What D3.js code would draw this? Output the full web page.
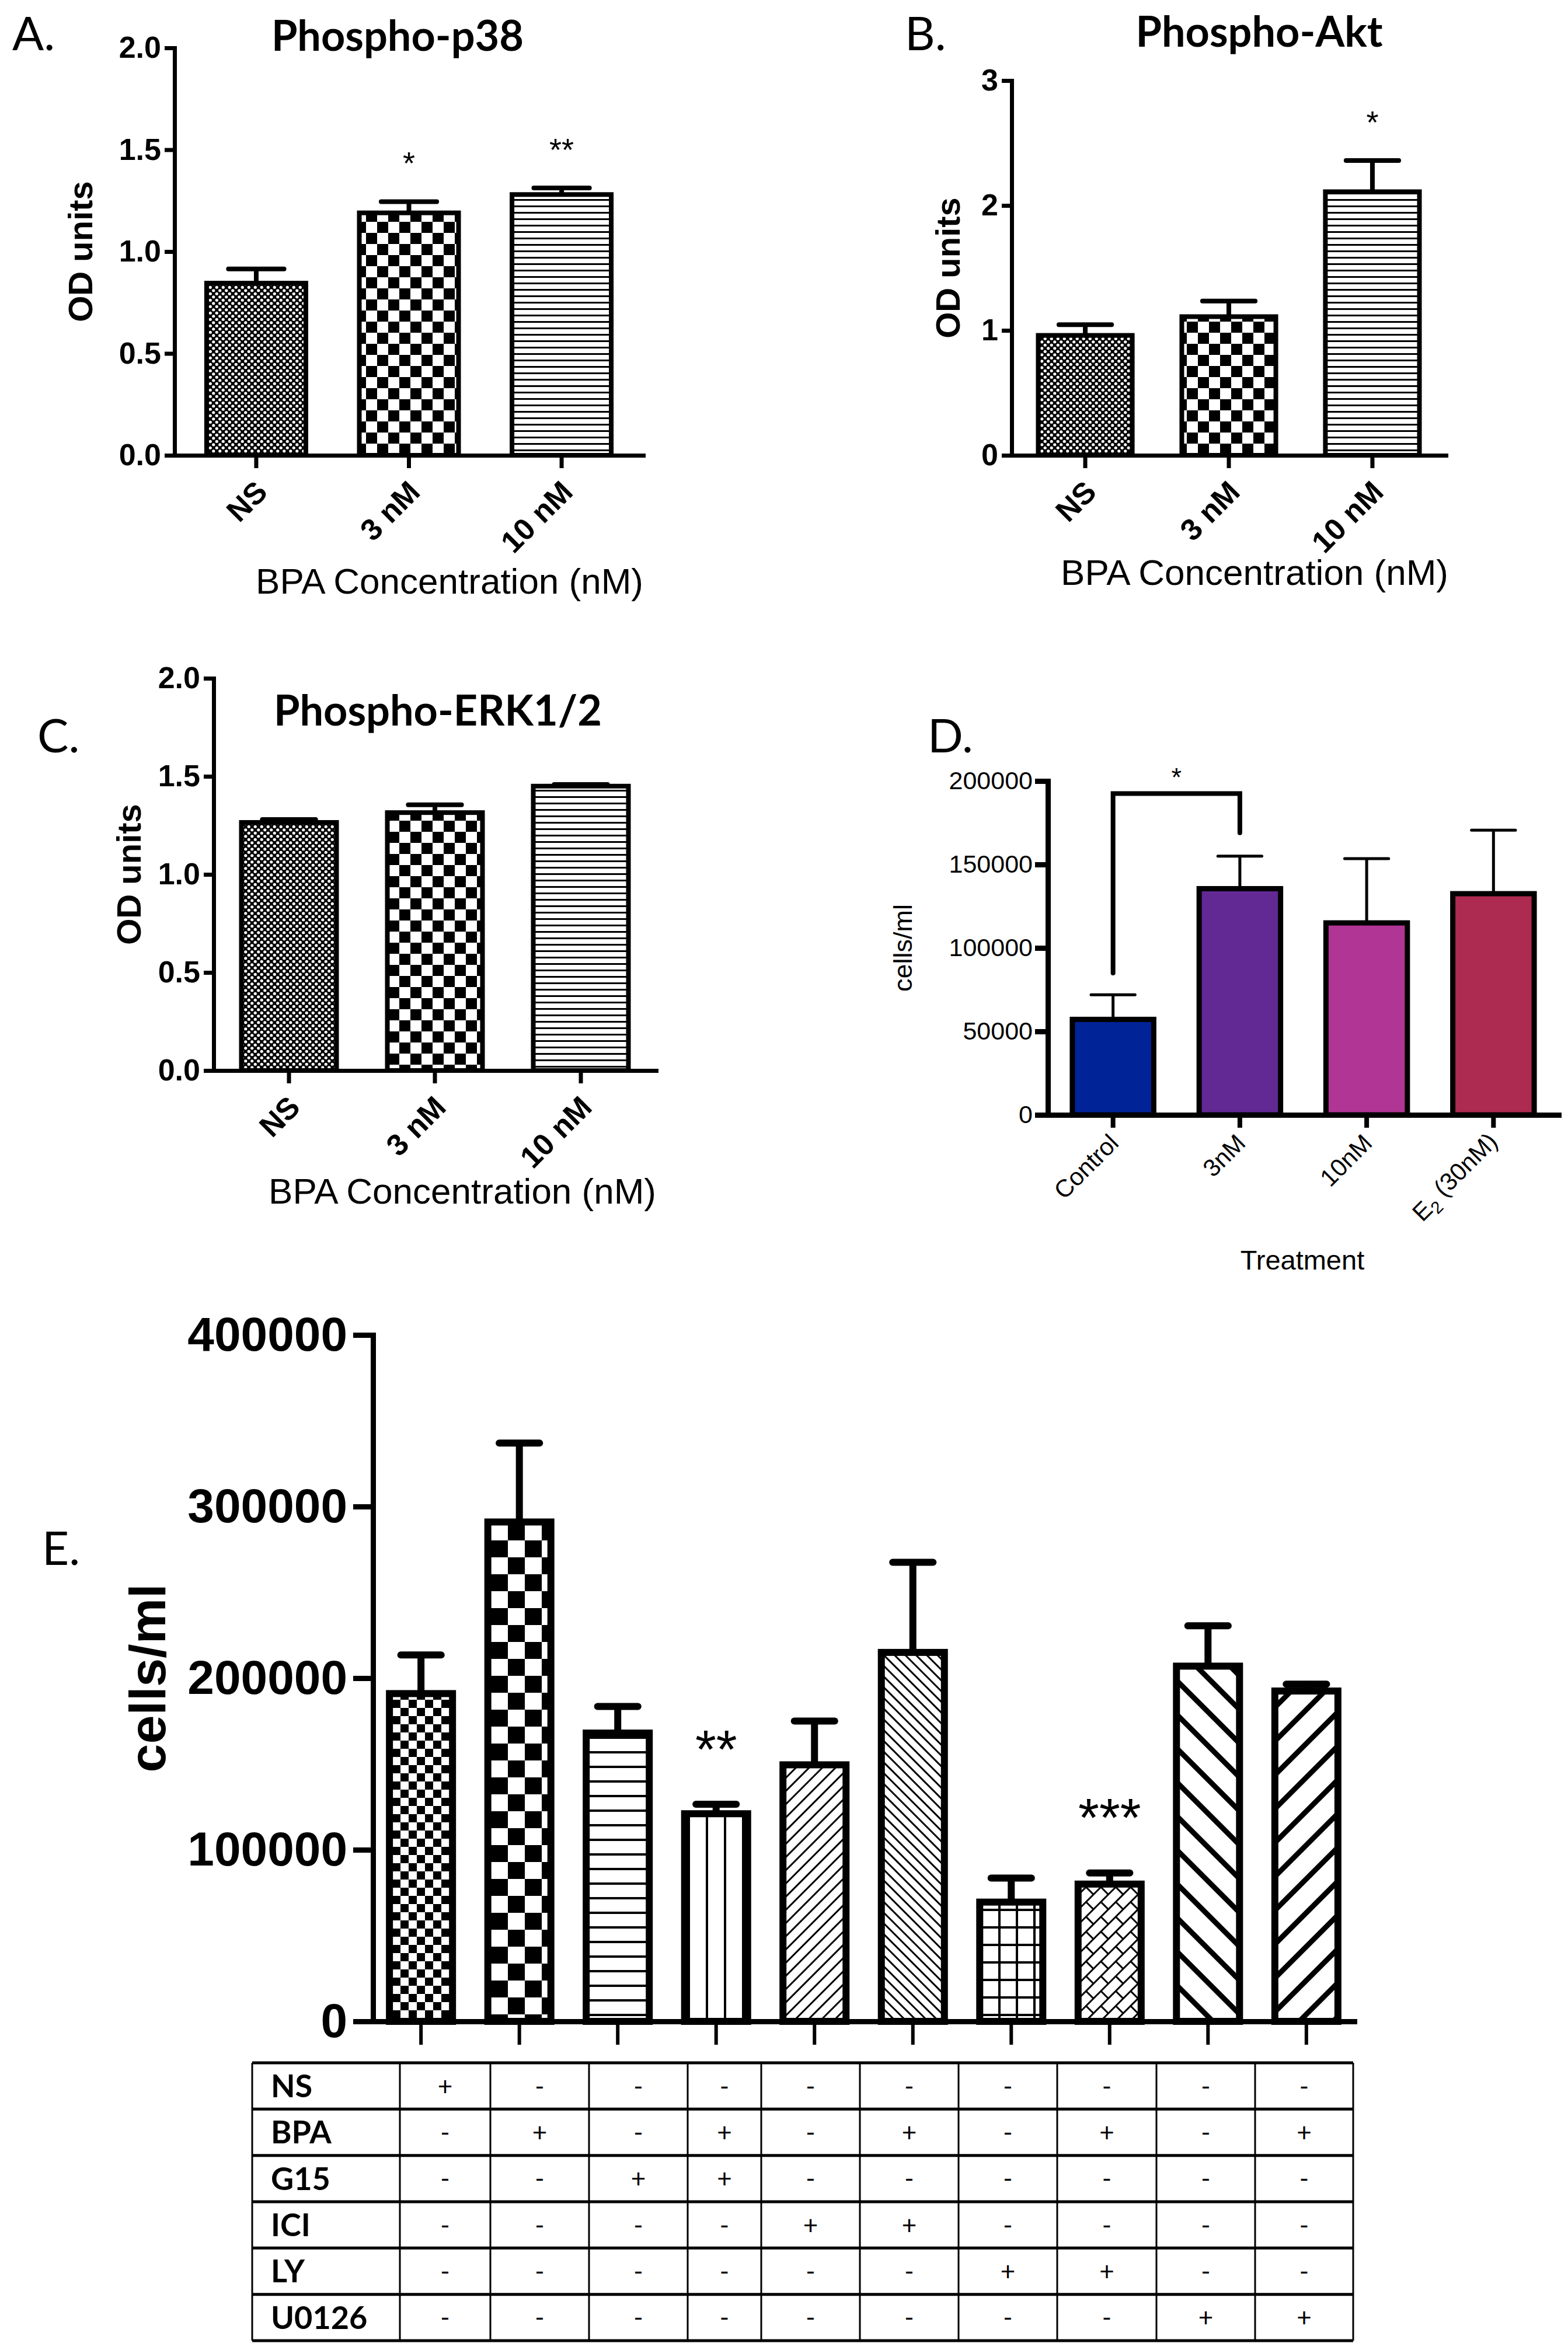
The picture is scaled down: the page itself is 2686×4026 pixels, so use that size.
<!DOCTYPE html>
<html>
<head>
<meta charset="utf-8">
<script src="https://cdn.jsdelivr.net/npm/d3@7"></script>
<style>
body { margin: 0; background: #fff; }
svg { display: block; }
</style>
</head>
<body>
<svg id="fig"></svg>
<script>
// ---------- data ----------
const bpaGroups = ["NS", "3 nM", "10 nM"];
const p38Mean = [0.845, 1.19, 1.28];
const p38Err = [0.07, 0.055, 0.032];
const p38Stars = ["", "*", "**"];
const aktMean = [0.96, 1.11, 2.11];
const aktErr = [0.085, 0.125, 0.25];
const aktStars = ["", "", "*"];
const erkMean = [1.265, 1.315, 1.45];
const erkErr = [0.015, 0.04, 0.008];
const erkStars = ["", "", ""];
const odTicks = [0, 0.5, 1.0, 1.5, 2.0];
const aktTicks = [0, 1, 2, 3];

const treatGroups = ["Control", "3nM", "10nM", "E2 (30nM)"];
const treatMean = [57200, 135500, 115000, 132500];
const treatErr = [14700, 19500, 38500, 38000];
const treatStars = ["", "", "", ""];
const treatTicks = [0, 50000, 100000, 150000, 200000];
const treatBracket = [85000, 192500, 169000]; // left foot, top, right foot

const inhGroups = ["NS", "BPA", "G15", "BPA+G15", "ICI", "BPA+ICI", "LY", "BPA+LY", "U0126", "BPA+U0126"];
const inhMean = [191000, 291000, 168000, 121000, 149500, 215000, 69500, 80000, 207000, 192500];
const inhErr = [22500, 46000, 15500, 5500, 25500, 52500, 14000, 6500, 23500, 4000];
const inhStars = ["", "", "", "**", "", "", "", "***", "", ""];
const inhTicks = [0, 100000, 200000, 300000, 400000];

const tableRows = ["NS", "BPA", "G15", "ICI", "LY", "U0126"];
const tableMarks = [
  "+---------",
  "-+-+-+-+-+",
  "--++------",
  "----++----",
  "------++--",
  "--------++"
];

// ---------- styles ----------
const ARIAL = "'Liberation Sans', Arial, sans-serif";
const CALIBRI = "Lato, 'Open Sans', sans-serif";
const bpaFills = ["url(#dots)", "url(#check)", "url(#hl)"];
const treatFills = ["#002397", "#622894", "#b03594", "#ad2a50"];
const inhFills = ["url(#eDots)", "url(#eCheck)", "url(#eHl)", "url(#eVl)", "url(#eUp)",
                  "url(#eDown)", "url(#eGrid)", "url(#eBrick)", "url(#eDownW)", "url(#eUpW)"];
const tableColW = [155, 169, 169, 126, 169, 169, 169, 170, 169, 168]; // column widths of the grid

const svg = d3.select("#fig").attr("width", 2686).attr("height", 4026);
svg.append("rect").attr("width", 2686).attr("height", 4026).attr("fill", "#fff");
const defs = svg.append("defs");

// ---------- fill patterns ----------
function addPattern(id, w, h, rot, bg) {
  const p = defs.append("pattern").attr("id", id)
    .attr("patternUnits", "userSpaceOnUse")
    .attr("width", w).attr("height", h);
  if (rot) p.attr("patternTransform", `rotate(${rot})`);
  p.append("rect").attr("width", w).attr("height", h).attr("fill", bg || "#fff");
  return p;
}
function checker(id, s) {
  const p = addPattern(id, 2 * s, 2 * s);
  p.append("rect").attr("width", s).attr("height", s);
  p.append("rect").attr("x", s).attr("y", s).attr("width", s).attr("height", s);
}
function whiteDots(id, s, r) {
  const p = addPattern(id, s, s, 0, "#000");
  p.append("circle").attr("cx", s / 4).attr("cy", s / 4).attr("r", r).attr("fill", "#fff");
  p.append("circle").attr("cx", 3 * s / 4).attr("cy", 3 * s / 4).attr("r", r).attr("fill", "#fff");
}
function stripes(id, gap, t, rot) {
  const p = addPattern(id, gap, gap, rot);
  p.append("rect").attr("width", t).attr("height", gap);
}
function grid(id, s, t) {
  const p = addPattern(id, s, s);
  p.append("rect").attr("width", t).attr("height", s);
  p.append("rect").attr("width", s).attr("height", t);
}
function bricks(id, w, h, t, rot) {
  const p = addPattern(id, w, 2 * h, rot);
  p.append("rect").attr("width", w).attr("height", t);
  p.append("rect").attr("y", h).attr("width", w).attr("height", t);
  p.append("rect").attr("width", t).attr("height", h);
  p.append("rect").attr("x", w / 2).attr("y", h).attr("width", t).attr("height", h);
}
whiteDots("dots", 11, 2.6);
checker("check", 19);
stripes("hl", 11, 3, 90);
checker("eDots", 14);
checker("eCheck", 29);
stripes("eHl", 25, 4, 90);
stripes("eVl", 31, 4, 0);
stripes("eUp", 16, 3, 45);
stripes("eDown", 13, 3, -45);
grid("eGrid", 30, 4);
bricks("eBrick", 36, 18, 3, -45);
stripes("eDownW", 41, 9, -45);
stripes("eUpW", 41, 9, 45);

// ---------- generic bar panel ----------
function barPanel(c) {
  const g = svg.append("g");
  const x = d3.scaleBand().domain(c.groups).range(c.xr)
    .paddingInner(c.pin).paddingOuter(c.pout);
  const y = d3.scaleLinear().domain(c.ydom).range(c.yr);
  const base = c.yr[0];
  const cx = i => x(c.groups[i]) + x.bandwidth() / 2;

  // bars
  g.selectAll("rect.bar").data(c.means).join("rect")
    .attr("class", "bar")
    .attr("x", (d, i) => x(c.groups[i]))
    .attr("y", d => y(d))
    .attr("width", x.bandwidth())
    .attr("height", d => base - y(d))
    .attr("fill", (d, i) => c.fills[i])
    .attr("stroke", "#000")
    .attr("stroke-width", c.barW);

  // error bars (upper only)
  const cap = x.bandwidth() * c.capFrac;
  g.selectAll("line.err").data(c.means).join("line")
    .attr("class", "err")
    .attr("x1", (d, i) => cx(i)).attr("x2", (d, i) => cx(i))
    .attr("y1", d => y(d)).attr("y2", (d, i) => y(d + c.errs[i]))
    .attr("stroke", "#000").attr("stroke-width", c.errW);
  g.selectAll("line.cap").data(c.means).join("line")
    .attr("class", "cap")
    .attr("x1", (d, i) => cx(i) - cap / 2).attr("x2", (d, i) => cx(i) + cap / 2)
    .attr("y1", (d, i) => y(d + c.errs[i])).attr("y2", (d, i) => y(d + c.errs[i]))
    .attr("stroke", "#000").attr("stroke-width", c.errW)
    .attr("stroke-linecap", "round");

  // significance stars
  g.selectAll("text.star").data(c.stars).join("text")
    .attr("class", "star")
    .attr("x", (d, i) => cx(i))
    .attr("y", (d, i) => y(c.means[i] + c.errs[i]) - c.starGap + 0.57 * c.starFs)
    .attr("text-anchor", "middle")
    .attr("font-family", ARIAL).attr("font-size", c.starFs)
    .text(d => d);

  // y axis
  const ya = g.append("g").attr("transform", `translate(${c.xr[0]},0)`)
    .call(d3.axisLeft(y).tickValues(c.ticks).tickFormat(c.fmt)
      .tickSize(c.tick).tickSizeOuter(0).tickPadding(c.tickPad));
  ya.select(".domain").attr("stroke-width", c.axisW).attr("stroke-linecap", "square");
  ya.selectAll(".tick line").attr("stroke-width", c.axisW);
  ya.selectAll(".tick text")
    .attr("font-family", ARIAL).attr("font-size", c.tickFs)
    .attr("font-weight", c.bold ? "bold" : "normal").attr("fill", "#000");

  // x axis
  const xa = g.append("g").attr("transform", `translate(0,${base})`)
    .call(d3.axisBottom(x).tickSize(c.xtick).tickSizeOuter(0)
      .tickFormat(c.xFs ? d => d : () => ""));
  xa.select(".domain").attr("stroke-width", c.axisW).attr("stroke-linecap", "square");
  xa.selectAll(".tick line").attr("stroke-width", c.xtickW);
  if (c.xFs) {
    xa.selectAll(".tick text")
      .attr("x", 0).attr("y", 0).attr("dy", null)
      .attr("transform", `translate(${c.lx},${c.ly}) rotate(-45)`)
      .attr("text-anchor", "end")
      .attr("font-family", ARIAL).attr("font-size", c.xFs)
      .attr("font-weight", c.bold ? "bold" : "normal").attr("fill", "#000")
      .each(function (d) {
        if (d.startsWith("E2")) {
          const t = d3.select(this).text("E");
          t.append("tspan").attr("dy", "0.3em").attr("font-size", c.xFs * 0.7).text("2");
          t.append("tspan").attr("dy", "-0.3em").text(d.slice(2));
        }
      });
  }

  // y axis title
  g.append("text")
    .attr("transform", `translate(${c.xr[0] - c.yTitleOff},${(c.yr[0] + c.yr[1]) / 2}) rotate(-90)`)
    .attr("dy", "0.36em")
    .attr("text-anchor", "middle")
    .attr("font-family", ARIAL).attr("font-size", c.yTitleFs)
    .attr("font-weight", c.bold ? "bold" : "normal")
    .text(c.yTitle);

  return { g, x, y };
}

function label(txt, x, y, size, weight, anchor, font) {
  return svg.append("text").attr("x", x).attr("y", y)
    .attr("font-family", font || CALIBRI).attr("font-size", size)
    .attr("font-weight", weight || "normal")
    .attr("text-anchor", anchor || "start")
    .text(txt);
}

const odCommon = {
  groups: bpaGroups, fills: bpaFills, fmt: d3.format(".1f"),
  barW: 8, errW: 8, axisW: 7, capFrac: 0.56, tick: 17, tickPad: 6,
  tickFs: 52, bold: true, xtick: 22, xtickW: 7, xFs: 52, lx: 22, ly: 66,
  yTitle: "OD units", yTitleFs: 58, starFs: 54, starGap: 78
};

// ---------- A ----------
barPanel(Object.assign({}, odCommon, {
  means: p38Mean, errs: p38Err, stars: p38Stars,
  xr: [299, 1102], pin: 0.35, pout: 0.21,
  ydom: [0, 2], yr: [780, 82], ticks: odTicks, yTitleOff: 162
}));
label("A.", 21, 86, 80);
label("Phospho-p38", 681, 87, 72, "bold", "middle");
label("BPA Concentration (nM)", 1102, 1017, 62, "normal", "end", ARIAL);

// ---------- B ----------
barPanel(Object.assign({}, odCommon, {
  means: aktMean, errs: aktErr, stars: aktStars,
  xr: [1733, 2477], pin: 0.345, pout: 0.185,
  ydom: [0, 3], yr: [780, 138], ticks: aktTicks, fmt: d3.format("d"),
  yTitleOff: 110
}));
label("B.", 1550, 86, 80);
label("Phospho-Akt", 2157, 80, 72, "bold", "middle");
label("BPA Concentration (nM)", 2481, 1002, 62, "normal", "end", ARIAL);

// ---------- C ----------
barPanel(Object.assign({}, odCommon, {
  means: erkMean, errs: erkErr, stars: erkStars,
  xr: [366, 1124], pin: 0.348, pout: 0.19,
  ydom: [0, 2], yr: [1834, 1162], ticks: odTicks, yTitleOff: 146
}));
label("C.", 64, 1289, 80);
label("Phospho-ERK1/2", 750, 1243, 72, "bold", "middle");
label("BPA Concentration (nM)", 1124, 2062, 62, "normal", "end", ARIAL);

// ---------- D ----------
const pd = barPanel({
  groups: treatGroups, means: treatMean, errs: treatErr, stars: treatStars,
  fills: treatFills, fmt: d3.format("d"),
  xr: [1795, 2670], pin: 0.358, pout: 0.193,
  ydom: [0, 200000], yr: [1910, 1338], ticks: treatTicks,
  barW: 9, errW: 5, axisW: 9, capFrac: 0.54, tick: 22, tickPad: 4,
  tickFs: 43, bold: false, xtick: 22, xtickW: 8, xFs: 42, lx: 12, ly: 51,
  yTitle: "cells/ml", yTitleFs: 45, yTitleOff: 249, starFs: 45, starGap: 0
});
{
  const bx = i => pd.x(treatGroups[i]) + pd.x.bandwidth() / 2;
  const pts = [[bx(0), treatBracket[0]], [bx(0), treatBracket[1]],
               [bx(1), treatBracket[1]], [bx(1), treatBracket[2]]];
  pd.g.append("path")
    .attr("d", d3.line().x(p => p[0]).y(p => pd.y(p[1]))(pts))
    .attr("fill", "none").attr("stroke", "#000").attr("stroke-width", 8)
    .attr("stroke-linecap", "round");
  pd.g.append("text")
    .attr("x", (bx(0) + bx(1)) / 2)
    .attr("y", pd.y(treatBracket[1]) - 38 + 0.57 * 45)
    .attr("text-anchor", "middle")
    .attr("font-family", ARIAL).attr("font-size", 45)
    .text("*");
}
label("D.", 1589, 1289, 80);
label("Treatment", 2231, 2175, 47, "normal", "middle", ARIAL);

// ---------- E ----------
const pe = barPanel({
  groups: inhGroups, means: inhMean, errs: inhErr, stars: inhStars,
  fills: inhFills, fmt: d3.format("d"),
  xr: [639, 2320], pin: 0.359, pout: 0.167,
  ydom: [0, 400000], yr: [3463, 2287], ticks: inhTicks,
  barW: 12, errW: 12, axisW: 9, capFrac: 0.64, tick: 34, tickPad: 10,
  tickFs: 82, bold: true, xtick: 40, xtickW: 6, xFs: 0,
  yTitle: "cells/ml", yTitleFs: 88, yTitleOff: 388, starFs: 92, starGap: 115
});
label("E.", 72, 2681, 80);

// ---------- treatment table ----------
const colEdges = [685].concat(Array.from(d3.cumsum(tableColW), w => 685 + w));
const tx = d3.scaleOrdinal().domain(inhGroups).range(colEdges.slice(0, -1));
const tw = d3.scaleOrdinal().domain(inhGroups).range(tableColW);
const ty = d3.scaleBand().domain(tableRows).range([3534, 4010]);
const tg = svg.append("g");
tg.selectAll("line.h").data(d3.range(tableRows.length + 1)).join("line")
  .attr("class", "h")
  .attr("x1", 432).attr("x2", colEdges[colEdges.length - 1])
  .attr("y1", i => ty.range()[0] + i * ty.step())
  .attr("y2", i => ty.range()[0] + i * ty.step())
  .attr("stroke", "#000").attr("stroke-width", 5);
tg.selectAll("line.v").data([432].concat(colEdges)).join("line")
  .attr("class", "v")
  .attr("x1", d => d).attr("x2", d => d)
  .attr("y1", ty.range()[0]).attr("y2", ty.range()[1])
  .attr("stroke", "#000").attr("stroke-width", 3);
tg.selectAll("text.rowlab").data(tableRows).join("text")
  .attr("class", "rowlab")
  .attr("x", 464).attr("y", d => ty(d) + ty.bandwidth() / 2)
  .attr("dy", "0.36em")
  .attr("font-family", CALIBRI).attr("font-size", 54).attr("font-weight", "bold")
  .text(d => d);
const cells = tableMarks.flatMap((row, ri) =>
  row.split("").map((m, ci) => ({ row: tableRows[ri], col: inhGroups[ci], m })));
tg.selectAll("text.mark").data(cells).join("text")
  .attr("class", "mark")
  .attr("x", d => tx(d.col) + tw(d.col) / 2)
  .attr("y", d => ty(d.row) + ty.bandwidth() / 2)
  .attr("dy", "0.36em")
  .attr("text-anchor", "middle")
  .attr("font-family", CALIBRI).attr("font-size", 44)
  .text(d => d.m);
</script>
</body>
</html>
